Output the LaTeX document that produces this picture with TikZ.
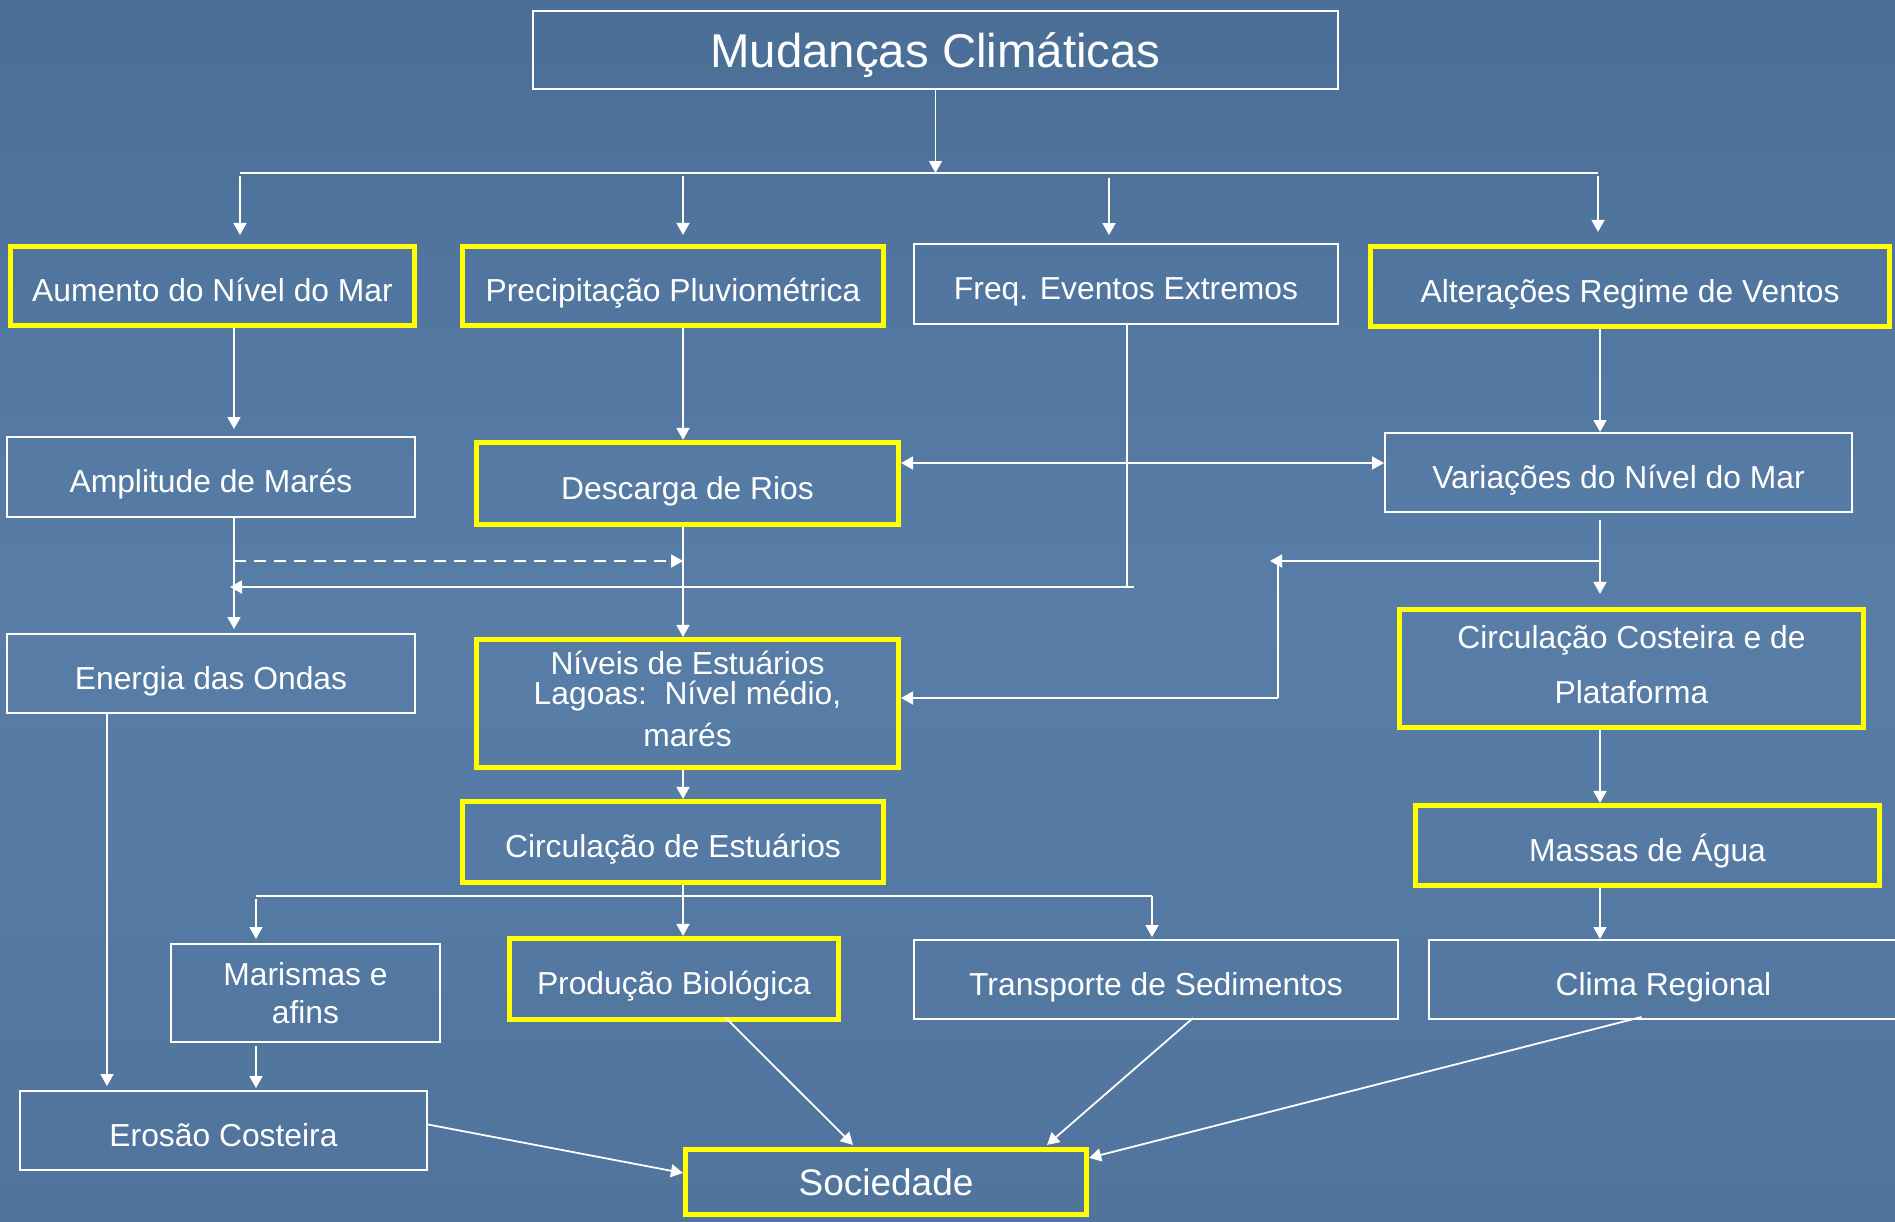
\documentclass[tikz,border=0pt]{standalone}
\usepackage{fontspec}
\setmainfont{Liberation Sans}
\usetikzlibrary{arrows.meta,calc}
\definecolor{bgtop}{RGB}{74,110,150}
\definecolor{bgmid}{RGB}{88,126,168}
\definecolor{bgbot}{RGB}{80,116,156}
\definecolor{hiyel}{RGB}{255,255,0}
\begin{document}
\begin{tikzpicture}[x=0.5pt,y=-0.5pt,
  wbox/.style={draw=white,line width=1pt,text=white,align=center,inner sep=0pt,
    font=\fontsize{15.9}{18}\selectfont},
  ybox/.style={wbox,draw=hiyel,line width=2.6pt},
  sl/.style={text height=15.6pt,text depth=0pt},
  conn/.style={draw=white,line width=0.9pt},
  arr/.style={conn,-{Triangle[length=6pt,width=6.5pt]}},
  darr/.style={conn,{Triangle[length=6pt,width=6.5pt]}-{Triangle[length=6pt,width=6.5pt]}},
]
% background
\shade[top color=bgtop,bottom color=bgbot,middle color=bgmid] (0,0) rectangle (1895,1221);
\useasboundingbox (0,0) rectangle (1895,1221);

% nodes
\node[wbox,minimum width=402.5pt,minimum height=39pt,text height=17.1pt,text depth=0pt,font=\fontsize{23.7}{28}\selectfont] (mud) at (935.5,50) {Mudanças Climáticas};
\node[ybox,sl,minimum width=202pt,minimum height=39.5pt] (aum) at (212.5,286) {Aumento do Nível do Mar};
\node[ybox,sl,minimum width=210.5pt,minimum height=39.5pt] (pre) at (673,286) {Precipitação Pluviométrica};
\node[wbox,sl,minimum width=212pt,minimum height=40pt] (freq) at (1126,284) {Freq. Eventos Extremos};
\node[ybox,sl,minimum width=259.5pt,minimum height=40pt] (alt) at (1630,286.5) {Alterações Regime de Ventos};
\node[wbox,sl,minimum width=204pt,minimum height=40pt] (amp) at (211,477) {Amplitude de Marés};
\node[ybox,sl,minimum width=211pt,minimum height=41pt] (des) at (687.5,483.5) {Descarga de Rios};
\node[wbox,sl,minimum width=233.5pt,minimum height=39.5pt] (var) at (1618.5,472.5) {Variações do Nível do Mar};
\node[wbox,sl,minimum width=204pt,minimum height=39.5pt] (ene) at (211,673.5) {Energia das Ondas};
\node[ybox,minimum width=211pt,minimum height=64pt,
  font=\fontsize{15.9}{15.5}\selectfont] (niv) at (687.5,703.5)
  {\raisebox{4.5pt}{\begin{tabular}{@{}c@{}}Níveis de Estuários\\[-1.2pt]Lagoas:\ \ Nível médio,\\[4.4pt]marés\end{tabular}}};
\node[ybox,minimum width=232pt,minimum height=59pt,text depth=3.6pt,
  font=\fontsize{15.9}{27.5}\selectfont] (cco) at (1631.5,668.5) {Circulação Costeira e de\\Plataforma};
\node[ybox,sl,minimum width=210.5pt,minimum height=40.5pt] (cest) at (673,842) {Circulação de Estuários};
\node[ybox,sl,minimum width=232pt,minimum height=40pt] (mas) at (1647.5,845.5) {Massas de Água};
\node[wbox,minimum width=134.5pt,minimum height=49pt,
  font=\fontsize{15.9}{19}\selectfont] (mar) at (305.5,993) {Marismas e\\afins};
\node[ybox,sl,minimum width=164.5pt,minimum height=40.5pt] (pro) at (674,979) {Produção Biológica};
\node[wbox,sl,minimum width=242pt,minimum height=39.5pt] (tra) at (1156,979.5) {Transporte de Sedimentos};
\node[wbox,sl,minimum width=235pt,minimum height=39.5pt] (cli) at (1663.5,979.5) {Clima Regional};
\node[wbox,sl,minimum width=203.5pt,minimum height=39.5pt] (ero) at (223.5,1130.5) {Erosão Costeira};
\node[ybox,minimum width=200.5pt,minimum height=32.5pt,font=\fontsize{18.5}{22}\selectfont] (soc) at (886,1182) {Sociedade};

% helper coordinates
\coordinate (busL) at (240,173);
\coordinate (busR) at (1598,173);
\coordinate (d1) at (240,176);
\coordinate (d2) at (683,176);
\coordinate (d3) at (1109,178);
\coordinate (d4) at (1598,176);
\coordinate (xa) at (234,0);
\coordinate (xp) at (683,0);
\coordinate (xr) at (1600,0);
\coordinate (yd) at (0,463);
\coordinate (fq) at (1127,587);
\coordinate (dsh) at (0,561);
\coordinate (br) at (1278,561);
\coordinate (brd) at (1278,698);
\coordinate (bus2L) at (256,896);
\coordinate (bus2R) at (1152,896);
\coordinate (e1) at (107,0);

% top tree
\draw[arr] (mud.south) -- (mud.south |- busL);
\draw[conn] (busL) -- (busR);
\draw[arr,shorten >=4.5pt] (d1) -- (d1 |- aum.north);
\draw[arr,shorten >=4.5pt] (d2) -- (d2 |- pre.north);
\draw[arr,shorten >=4pt] (d3) -- (d3 |- freq.north);
\draw[arr,shorten >=6pt] (d4) -- (d4 |- alt.north);

% row 1 -> row 2
\draw[arr,shorten >=3.5pt] (xa |- aum.south) -- (xa |- amp.north);
\draw[arr] (xp |- pre.south) -- (xp |- des.north);
\draw[arr] (xr |- alt.south) -- (xr |- var.north);
\draw[darr] (des.east |- yd) -- (var.west |- yd);

% freq connector
\draw[conn] (fq |- freq.south) -- (fq);
\draw[arr,shorten >=-2pt] ($(fq)+(7,0)$) -- (xa |- fq);
% dashed
\draw[arr,dash pattern=on 6pt off 4pt] (xa |- dsh) -- (xp |- dsh);

% row 2 -> row 3
\draw[arr,shorten >=2pt] (xa |- amp.south) -- (xa |- ene.north);
\draw[arr] (xp |- des.south) -- (xp |- niv.north);
\draw[arr,shorten >=6.5pt] ($(xr |- var.south)+(0,7)$) -- (xr |- cco.north);
\draw[arr,shorten >=-4pt] (xr |- dsh) -- (br);
\draw[conn] (br) -- (brd);
\draw[arr] (brd) -- (niv.east |- brd);

% row 3 -> row 4
\draw[arr] (xp |- niv.south) -- (xp |- cest.north);
\draw[arr] (xr |- cco.south) -- (xr |- mas.north);

% estuary bus
\draw[conn] (bus2L) -- (bus2R);
\draw[arr] (xp |- cest.south) -- (xp |- pro.north);
\draw[arr,shorten >=2pt] ($(bus2L)+(0,3)$) -- (bus2L |- mar.north);
\draw[arr,shorten >=1pt] (bus2R) -- (bus2R |- tra.north);
\draw[arr] (xr |- mas.south) -- (xr |- cli.north);

% to erosion
\draw[arr,shorten >=2pt] (e1 |- ene.south) -- (e1 |- ero.north);
\draw[arr,shorten >=1pt] ($(bus2L |- mar.south)+(0,3)$) -- (bus2L |- ero.north);

% to sociedade
\draw[arr] ($(ero.east)+(0,-6)$) -- ($(soc.west)+(0,-9)$);
\draw[arr] ($(pro.south)+(52,-4)$) -- ($(soc.north)+(-33,-2)$);
\draw[arr] ($(tra.south)+(37,-2)$) -- ($(soc.north)+(161,-2)$);
\draw[arr] ($(cli.south)+(-22,-3)$) -- ($(soc.north east)+(0,11)$);
\end{tikzpicture}
\end{document}
